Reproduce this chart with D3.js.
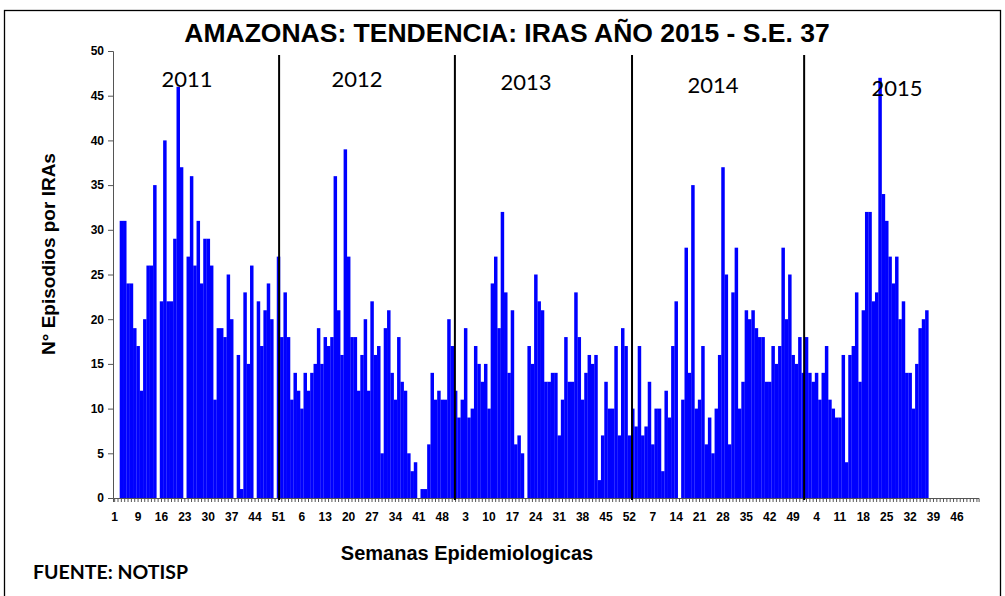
<!DOCTYPE html>
<html>
<head>
<meta charset="utf-8">
<script src="https://cdn.jsdelivr.net/npm/d3@7"></script>
<style>
  body { margin: 0; background: #fff; }
  text { font-family: "Liberation Sans", Arial, sans-serif; }
</style>
</head>
<body>
<div id="chart"></div>
<script>
// Week labels per year (2011 series starts with a "1" label then week 3)
var weeks2011 = [1].concat(d3.range(3, 53));
var weeks2012 = d3.range(1, 53);
var weeks2013 = d3.range(1, 53);
var weeks2014 = d3.range(1, 53);
var weeks2015 = d3.range(1, 53);

// Weekly episodes, null = no bar
var v2011 = [null, null, 31, 31, 24, 24, 19, 17, 12, 20, 26, 26, 35, 0, 22, 40, 22, 22, 29, 46, 37, 0,
  27, 36, 26, 31, 24, 29, 29, 26, 11, 19, 19, 18, 25, 20, 0, 16, 1, 23, 15, 26, 0, 22, 17, 21, 24, 20, 0, 27, 18];
var v2012 = [23, 18, 11, 14, 12, 10, 14, 12, 14, 15, 19, 15, 18, 17, 18, 36, 21, 16, 39, 27,
  18, 18, 12, 16, 20, 12, 22, 16, 17, 5, 19, 21, 14, 11, 18, 13, 12, 5, 3, 4,
  0, 1, 1, 6, 14, 11, 12, 11, 11, 20, 17, 12];
var v2013 = [9, 11, 19, 9, 10, 17, 15, 13, 15, 10, 24, 27, 19, 32, 23, 14, 21, 6, 7, 5,
  0, 17, 15, 25, 22, 21, 13, 13, 14, 14, 7, 11, 18, 13, 13, 23, 18, 11, 14, 16,
  15, 16, 2, 7, 13, 10, 10, 17, 7, 19, 17, 7];
var v2014 = [10, 8, 17, 7, 8, 13, 6, 10, 10, 3, 12, 9, 17, 22, 0, 11, 28, 14, 35, 10,
  11, 17, 6, 9, 5, 10, 16, 37, 25, 6, 23, 28, 10, 13, 21, 20, 21, 19, 18, 18,
  13, 13, 17, 15, 17, 28, 20, 25, 16, 15, 18, 14];
var v2015 = [18, 14, 13, 14, 11, 14, 17, 11, 10, 9, 9, 16, 4, 16, 17, 23, 13, 21, 32, 32,
  22, 23, 47, 34, 31, 27, 24, 27, 20, 22, 14, 14, 10, 15, 19, 20, 21];

var years = ["2011", "2012", "2013", "2014", "2015"];
var yTicks = d3.range(0, 51, 5);
var labelEvery = 7;
// year divider lines, in category units (hand drawn in the original)
var dividers = [49.7, 102.3, 155.3, 206.8];

// Build the category table
var weekLists = [weeks2011, weeks2012, weeks2013, weeks2014, weeks2015];
var valueLists = [v2011, v2012, v2013, v2014, v2015];
var data = [];
weekLists.forEach(function(wl, y) {
  wl.forEach(function(w, k) {
    var v = valueLists[y][k];
    data.push({ idx: data.length, week: w, year: years[y], value: v === undefined ? null : v });
  });
});

var svgWidth = 1005;
var svgHeight = 596;
var plot = { left: 113, right: 978.6, top: 51, bottom: 498 };

var svg = d3.select("#chart")
  .append("svg")
  .attr("width", svgWidth)
  .attr("height", svgHeight);

svg.append("rect")
  .attr("width", svgWidth).attr("height", svgHeight)
  .attr("fill", "#fff");

// Outer frame
svg.append("rect")
  .attr("x", 4.5).attr("y", 10.5)
  .attr("width", 996).attr("height", 620)
  .attr("fill", "none")
  .attr("stroke", "#000")
  .attr("stroke-width", 1.3);

var x = d3.scaleBand()
  .domain(data.map(d => d.idx))
  .range([plot.left, plot.right])
  .padding(0);

var y = d3.scaleLinear()
  .domain([0, 50])
  .range([plot.bottom, plot.top]);

// Bars
svg.append("g")
  .selectAll("rect")
  .data(data.filter(d => d.value !== null && d.value > 0))
  .join("rect")
  .attr("x", d => x(d.idx))
  .attr("y", d => y(d.value))
  .attr("width", x.bandwidth() + 0.15)
  .attr("height", d => y(0) - y(d.value))
  .attr("fill", "#0000ff");

// Y axis
var yAxis = svg.append("g")
  .attr("transform", `translate(${plot.left},0)`)
  .call(d3.axisLeft(y).tickValues(yTicks).tickSize(5).tickPadding(4));
yAxis.selectAll("text")
  .style("font-family", "Liberation Sans, Arial, sans-serif")
  .style("font-size", "12px")
  .style("font-weight", "bold")
  .attr("fill", "#000");
yAxis.select(".domain").attr("stroke", "#555");
yAxis.selectAll(".tick line").attr("stroke", "#555");

// X axis minor ticks (every week)
var xMinor = svg.append("g")
  .attr("transform", `translate(0,${plot.bottom})`)
  .call(d3.axisBottom(x).tickSize(4).tickFormat(""));
xMinor.select(".domain").attr("stroke", "#555");
xMinor.selectAll(".tick line").attr("stroke", "#555");

// X axis labels every 7 weeks
var labelIdx = data.filter(d => d.idx % labelEvery === 0).map(d => d.idx);
var xLab = svg.append("g")
  .attr("transform", `translate(0,${plot.bottom})`)
  .call(d3.axisBottom(x).tickValues(labelIdx).tickSize(0).tickPadding(14)
    .tickFormat(i => data[i].week));
xLab.select(".domain").remove();
xLab.selectAll("text")
  .style("font-family", "Liberation Sans, Arial, sans-serif")
  .style("font-size", "12px")
  .style("font-weight", "bold")
  .attr("fill", "#000");

// Year dividers
var catW = x.step();
svg.append("g")
  .selectAll("line")
  .data(dividers)
  .join("line")
  .attr("x1", d => plot.left + d * catW)
  .attr("x2", d => plot.left + d * catW)
  .attr("y1", 55)
  .attr("y2", 500)
  .attr("stroke", "#000")
  .attr("stroke-width", 2);

// Year labels (placed by hand in the original)
var yearLabelPos = [[187, 87], [357, 87], [526, 90], [713, 93], [897, 96]];
svg.append("g")
  .selectAll("text")
  .data(years)
  .join("text")
  .attr("x", (d, i) => yearLabelPos[i][0])
  .attr("y", (d, i) => yearLabelPos[i][1])
  .attr("text-anchor", "middle")
  .style("font-family", "Lato, 'Open Sans', sans-serif")
  .style("font-size", "22px")
  .attr("fill", "#000")
  .text(d => d);

// Title
svg.append("text")
  .attr("x", 507)
  .attr("y", 42)
  .attr("text-anchor", "middle")
  .style("font-size", "26.5px")
  .style("font-weight", "bold")
  .text("AMAZONAS: TENDENCIA: IRAS AÑO 2015 - S.E. 37");

// Axis titles
svg.append("text")
  .attr("transform", "translate(55,254) rotate(-90)")
  .attr("text-anchor", "middle")
  .style("font-size", "19px")
  .style("font-weight", "bold")
  .text("N° Episodios por IRAs");

svg.append("text")
  .attr("x", 467)
  .attr("y", 560)
  .attr("text-anchor", "middle")
  .style("font-size", "20px")
  .style("font-weight", "bold")
  .text("Semanas Epidemiologicas");

svg.append("text")
  .attr("x", 33)
  .attr("y", 579)
  .style("font-family", "Lato, sans-serif")
  .style("font-size", "19.5px")
  .style("font-weight", "bold")
  .text("FUENTE: NOTISP");
</script>
</body>
</html>
